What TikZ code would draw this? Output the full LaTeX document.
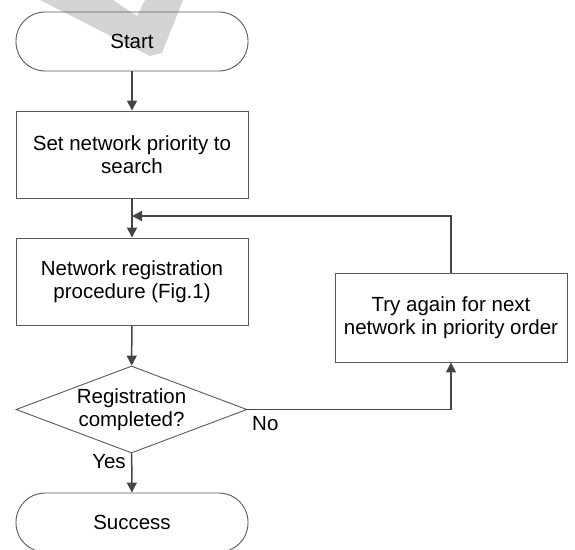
\documentclass[tikz,border=0pt]{standalone}
\usepackage{fontspec}
\setmainfont{Liberation Sans}
\usetikzlibrary{shapes.geometric,arrows.meta}

\definecolor{edgegrey}{HTML}{595959}
\definecolor{flowgrey}{HTML}{454545}
\definecolor{wmgrey}{HTML}{D4D4D4}

\tikzset{
  base/.style={draw=edgegrey, line width=0.9pt, inner sep=0pt, align=center,
    font=\fontsize{20.5}{23.5}\selectfont, text=black},
  terminal/.style={base, rectangle, rounded corners=29pt,
    minimum width=232pt, minimum height=59pt},
  process/.style={base, rectangle, minimum width=232pt, minimum height=87pt},
  decision/.style={base, diamond, aspect=2.66,
    minimum width=231pt, minimum height=87pt},
  flowline/.style={draw=flowgrey, line width=1.5pt,
    -{Triangle[length=10pt,width=10pt]}},
  lbl/.style={font=\fontsize{20.5}{23.5}\selectfont, inner sep=0pt}
}

\begin{document}
\begin{tikzpicture}[x=1pt, y=-1pt]
\useasboundingbox (0,0) rectangle (575,549);

% faint check-mark watermark behind the start terminal
\fill[wmgrey] (40,0) -- (113,0) -- (137,16) -- (145,0) -- (183,0)
  -- (162,53) -- (150,56) -- cycle;

\node[terminal] (start) at (132,41.5) {Start};
\node[process]  (setp)  at (132,154.5) {Set network priority to\\search};
\node[process]  (reg)   at (132,281.5) {Network registration\\procedure (Fig.1)};
\node[decision] (done)  at (131.5,409.5) {Registration\\completed?};
\node[terminal] (succ)  at (132,522.5) {Success};
\node[process, minimum height=89pt] (retry) at (451,317.5)
  {Try again for next\\network in priority order};

\coordinate (join) at (132,216);

\draw[flowline] (start) -- (setp);
\draw[flowline] (setp) -- (reg);
\draw[flowline] (reg) -- (done);
\draw[flowline] (done) -- (succ);
\draw[flowline] (done.east) -| (retry.south);
\draw[flowline] (retry.north) |- (join);

\node[lbl, anchor=west] (no)  at (252,424) {No};
\node[lbl] (yes) at (109,462) {Yes};
\end{tikzpicture}
\end{document}
